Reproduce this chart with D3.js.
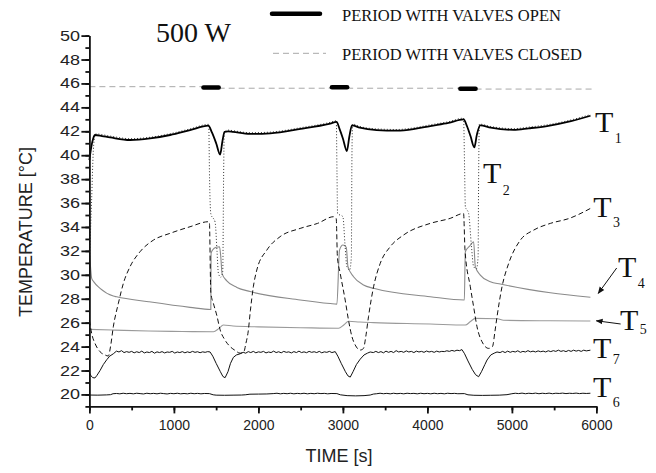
<!DOCTYPE html>
<html>
<head>
<meta charset="utf-8">
<script src="https://cdn.jsdelivr.net/npm/d3@7"></script>
<style>
  body { margin: 0; background: #fff; }
</style>
</head>
<body>
<div id="wrapper"></div>
<script>
// STEP 1: DATA  (time in s, temperature in °C)

const xTicks = [0, 1000, 2000, 3000, 4000, 5000, 6000];
const yTicks = [20, 22, 24, 26, 28, 30, 32, 34, 36, 38, 40, 42, 44, 46, 48, 50];

// valve periods shown on the 45.7 °C strip: [start, end, level]
const openPeriods = [[1350, 1530, 45.66], [2870, 3050, 45.68], [4390, 4570, 45.55]];
const closedPeriods = [[0, 1350, 45.73], [1530, 2870, 45.6], [3050, 4390, 45.6], [4570, 5950, 45.53]];

const t1 = [[0,39.6],[20,40.6],[45,41.4],[66,41.69],[150,41.6],[244,41.49],[481,41.27],[718,41.4],[955,41.69],[1191,42.1],[1408,42.47],
  [1450,41.9],[1500,41.0],[1547,40.05],[1575,41.2],[1600,41.95],[1640,42.0],[1700,41.95],[1900,41.78],[2140,41.83],[2500,42.2],[2850,42.65],[2925,42.78],
  [2960,42.2],[3000,41.4],[3047,40.35],[3075,41.5],[3107,42.5],[3200,42.3],[3400,42.1],[3640,42.05],[3850,42.2],[4034,42.44],[4250,42.7],[4428,43.0],
  [4470,42.4],[4510,41.6],[4555,40.65],[4585,41.7],[4625,42.5],[4750,42.3],[5020,42.12],[5200,42.25],[5416,42.44],[5700,42.85],[5930,43.3]];

const t2 = [[0,31.0],[25,36.0],[50,40.8],[75,41.78],[244,41.6],[481,41.38],[718,41.5],[955,41.8],[1191,42.2],[1412,42.58],
  [1422,38.0],[1437,35.1],[1488,34.4],[1510,32.0],[1527,30.1],[1555,29.8],[1578,30.3],[1588,38.0],[1596,41.9],[1640,42.1],[1700,42.05],
  [1900,41.88],[2140,41.93],[2500,42.3],[2850,42.75],[2922,42.88],[2930,38.5],[2937,35.13],[3000,34.86],[3025,32.5],[3047,30.68],[3080,30.4],
  [3100,31.5],[3107,40.0],[3115,42.6],[3200,42.4],[3400,42.2],[3640,42.15],[3850,42.3],[4034,42.54],[4250,42.8],[4428,43.1],[4440,39.0],
  [4449,35.7],[4488,35.13],[4520,32.5],[4547,30.68],[4580,30.5],[4600,31.5],[4606,38.0],[4615,42.6],[4750,42.4],[5020,42.22],[5200,42.35],
  [5416,42.54],[5700,42.95],[5930,43.4]];

const t3 = [[0,26.2],[30,25.0],[66,24.27],[126,23.57],[185,23.3],[224,23.21],[250,24.0],[283,25.66],[343,27.62],[402,29.29],[481,30.68],
  [599,31.93],[757,32.9],[955,33.47],[1191,34.02],[1408,34.44],[1420,34.4],[1437,28.5],[1468,27.6],[1508,26.6],[1547,25.4],[1600,24.6],
  [1665,24.0],[1720,23.7],[1784,23.45],[1830,23.6],[1850,24.2],[1880,25.3],[1905,27.0],[1940,29.0],[1981,30.4],[2100,32.07],[2257,33.19],
  [2494,33.88],[2700,34.3],[2889,34.86],[2921,34.7],[2935,31.5],[2968,30.13],[3027,27.89],[3066,26.22],[3107,24.83],[3146,24.13],
  [3205,23.71],[3244,23.85],[3270,24.8],[3303,26.5],[3363,29.0],[3442,30.96],[3560,32.35],[3718,33.33],[4034,34.3],[4270,34.72],
  [4428,35.13],[4445,32.07],[4508,29.0],[4547,27.33],[4587,25.66],[4646,24.41],[4725,23.85],[4770,24.0],[4800,25.3],[4824,26.5],
  [4883,29.0],[4962,30.96],[5100,32.9],[5258,33.74],[5455,34.3],[5680,34.72],[5929,35.55]];

const t4 = [[0,32.1],[15,30.5],[27,29.7],[50,29.43],[126,28.87],[283,28.23],[323,28.16],[700,27.75],[1191,27.28],[1437,27.1],
  [1440,31.8],[1460,32.1],[1500,32.3],[1540,32.35],[1555,31.5],[1570,30.1],[1626,29.5],[1745,28.95],[1902,28.6],[2494,27.9],[2850,27.6],
  [2929,27.55],[2960,32.07],[3000,32.49],[3040,32.3],[3060,30.68],[3126,29.84],[3244,29.15],[3363,28.87],[4034,28.17],[4437,27.89],
  [4449,31.93],[4500,32.4],[4547,32.77],[4567,30.68],[4626,29.98],[4745,29.42],[4863,29.23],[5455,28.5],[5929,28.12]];

const t5 = [[0,25.44],[300,25.38],[700,25.3],[1100,25.26],[1468,25.24],[1530,25.5],[1586,25.8],[1700,25.72],[2000,25.65],[2500,25.58],
  [2948,25.53],[3010,25.8],[3067,26.12],[3200,26.05],[3363,26.0],[4034,25.89],[4449,25.8],[4510,26.1],[4567,26.36],[4830,26.33],
  [4900,26.2],[5455,26.16],[5929,26.14]];

const t7 = [[0,21.8],[20,21.55],[40,21.4],[66,21.38],[90,21.6],[126,22.0],[165,22.5],[205,22.9],[240,23.2],[283,23.4],[320,23.62],
  [350,23.55],[380,23.66],[410,23.5],[440,23.58],[470,23.52],[500,23.6],[530,23.48],[560,23.57],[590,23.5],[620,23.62],[650,23.47],
  [680,23.55],[710,23.5],[740,23.6],[770,23.45],[800,23.56],[830,23.5],[860,23.58],[890,23.47],[920,23.55],[950,23.52],[980,23.6],
  [1010,23.46],[1040,23.55],[1070,23.5],[1100,23.58],[1130,23.48],[1160,23.56],[1190,23.5],[1220,23.6],[1250,23.52],[1280,23.57],
  [1310,23.49],[1340,23.56],[1370,23.52],[1400,23.58],[1428,23.55],[1460,23.2],[1500,22.6],[1550,21.9],[1580,21.5],[1606,21.4],
  [1640,21.9],[1670,22.6],[1704,23.1],[1740,23.3],[1784,23.4],[1820,23.52],[1850,23.45],[1880,23.58],[1910,23.5],[1940,23.6],
  [1970,23.48],[2000,23.56],[2030,23.52],[2060,23.6],[2090,23.47],[2120,23.55],[2150,23.5],[2180,23.62],[2210,23.5],[2240,23.57],
  [2270,23.48],[2300,23.6],[2330,23.52],[2360,23.56],[2390,23.47],[2420,23.58],[2450,23.5],[2480,23.62],[2510,23.5],[2540,23.56],
  [2570,23.49],[2600,23.6],[2630,23.52],[2660,23.57],[2690,23.5],[2720,23.6],[2750,23.48],[2780,23.56],[2810,23.52],[2840,23.6],
  [2870,23.5],[2909,23.58],[2940,23.2],[2980,22.6],[3030,21.9],[3060,21.55],[3087,21.45],[3120,21.9],[3160,22.5],[3205,22.95],
  [3250,23.3],[3290,23.45],[3323,23.55],[3360,23.5],[3390,23.6],[3420,23.5],[3450,23.58],[3480,23.48],[3510,23.62],[3540,23.52],
  [3570,23.6],[3600,23.5],[3630,23.66],[3660,23.55],[3690,23.6],[3720,23.52],[3750,23.64],[3780,23.55],[3810,23.6],[3840,23.5],
  [3870,23.62],[3900,23.55],[3930,23.6],[3960,23.52],[3990,23.63],[4020,23.55],[4050,23.6],[4080,23.52],[4110,23.62],[4140,23.55],
  [4170,23.6],[4200,23.58],[4230,23.65],[4260,23.6],[4290,23.68],[4320,23.62],[4350,23.7],[4380,23.66],[4409,23.75],[4440,23.4],
  [4480,22.8],[4530,22.1],[4570,21.65],[4606,21.48],[4640,21.9],[4680,22.5],[4706,22.88],[4750,23.3],[4790,23.45],[4824,23.55],
  [4860,23.5],[4890,23.6],[4920,23.5],[4950,23.62],[4980,23.52],[5010,23.6],[5040,23.55],[5070,23.65],[5100,23.52],[5130,23.6],
  [5160,23.55],[5190,23.66],[5220,23.56],[5250,23.62],[5280,23.55],[5310,23.64],[5340,23.57],[5370,23.62],[5400,23.55],[5430,23.65],
  [5460,23.58],[5490,23.66],[5520,23.6],[5550,23.7],[5580,23.6],[5610,23.66],[5640,23.58],[5670,23.68],[5700,23.6],[5730,23.7],
  [5760,23.62],[5790,23.68],[5820,23.6],[5850,23.7],[5880,23.64],[5929,23.7]];

const t6 = [[0,19.95],[100,19.94],[200,19.96],[250,19.98],[280,20.06],[320,20.08],[360,20.05],[400,20.1],[440,20.06],[480,20.09],
  [520,20.05],[560,20.1],[600,20.07],[640,20.04],[680,20.1],[720,20.06],[760,20.09],[800,20.05],[840,20.1],[880,20.07],[920,20.04],
  [960,20.09],[1000,20.06],[1040,20.1],[1080,20.05],[1120,20.08],[1160,20.05],[1200,20.1],[1240,20.06],[1280,20.09],[1320,20.05],
  [1360,20.08],[1420,20.07],[1465,19.97],[1500,19.94],[1600,19.93],[1700,19.94],[1800,19.95],[1844,19.97],[1900,20.02],[2000,20.03],
  [2100,20.04],[2175,20.07],[2220,20.1],[2260,20.05],[2300,20.09],[2340,20.06],[2380,20.1],[2420,20.05],[2460,20.09],[2500,20.06],
  [2540,20.1],[2580,20.05],[2620,20.09],[2660,20.06],[2700,20.1],[2740,20.07],[2780,20.09],[2820,20.05],[2860,20.08],[2929,20.07],
  [2970,19.97],[3050,19.9],[3150,19.88],[3250,19.9],[3323,19.95],[3360,20.03],[3400,20.06],[3440,20.1],[3480,20.06],[3520,20.09],
  [3560,20.05],[3600,20.1],[3640,20.06],[3680,20.09],[3720,20.05],[3760,20.1],[3800,20.07],[3840,20.09],[3880,20.05],[3920,20.1],
  [3960,20.06],[4000,20.09],[4040,20.05],[4080,20.1],[4120,20.06],[4160,20.09],[4200,20.05],[4240,20.1],[4280,20.07],[4320,20.09],
  [4360,20.06],[4437,20.07],[4480,19.97],[4550,19.93],[4650,19.92],[4750,19.93],[4850,19.94],[4942,19.98],[5000,20.06],[5040,20.1],
  [5080,20.07],[5120,20.11],[5160,20.06],[5200,20.1],[5240,20.07],[5280,20.11],[5320,20.06],[5360,20.1],[5400,20.07],[5440,20.11],
  [5480,20.06],[5520,20.1],[5560,20.08],[5600,20.11],[5640,20.07],[5680,20.1],[5720,20.08],[5760,20.11],[5800,20.07],[5840,20.1],
  [5880,20.08],[5929,20.1]];

// series labels: name, subscript, anchor (time, temperature) of the "T" baseline, subscript drop
const seriesLabels = [
  ["T", "1", 5983, 41.96, 11.5],
  ["T", "2", 4658, 37.68, 12],
  ["T", "3", 5963, 34.86, 10],
  ["T", "4", 6255, 29.84, 11],
  ["T", "5", 6279, 25.38, 4],
  ["T", "7", 5960, 23.04, 6],
  ["T", "6", 5960, 19.81, 10]
];

// arrows pointing from labels T4 and T5 to their curves: [t0, v0, t1, v1]
const labelArrows = [[6240, 30.57, 6022, 28.45], [6287, 25.89, 5999, 26.16]];

// STEP 2: DIMENSIONS

const dimensions = {
  width: 656,
  height: 473,
  margin: { top: 35.6, right: 59.6, bottom: 66.6, left: 89.4 }
};
dimensions.boundedWidth = dimensions.width - dimensions.margin.left - dimensions.margin.right;
dimensions.boundedHeight = dimensions.height - dimensions.margin.top - dimensions.margin.bottom;

const wrapper = d3.select("#wrapper")
  .append("svg")
  .attr("width", dimensions.width)
  .attr("height", dimensions.height)
  .style("background", "#fff");

const defs = wrapper.append("defs");
defs.append("marker")
  .attr("id", "arrowhead")
  .attr("viewBox", "0 0 10 10")
  .attr("refX", 9).attr("refY", 5)
  .attr("markerWidth", 7).attr("markerHeight", 7)
  .attr("markerUnits", "userSpaceOnUse")
  .attr("orient", "auto")
  .append("path")
  .attr("d", "M0,1 L10,5 L0,9 Z")
  .attr("fill", "#111");

const bounds = wrapper.append("g")
  .attr("transform", `translate(${dimensions.margin.left},${dimensions.margin.top})`);

// STEP 3: SCALES

const xScale = d3.scaleLinear().domain([0, 6000]).range([0, dimensions.boundedWidth]);
const yScale = d3.scaleLinear().domain([19, 50]).range([dimensions.boundedHeight, 0]);

// STEP 4: LINES

const lineGen = (curve) => d3.line()
  .x(d => xScale(d[0]))
  .y(d => yScale(d[1]))
  .curve(curve);

const series = [
  { data: t4, stroke: "#8a8a8a", width: 1.1, dash: null, curve: d3.curveMonotoneX },
  { data: t5, stroke: "#9a9a9a", width: 1.1, dash: null, curve: d3.curveMonotoneX },
  { data: t6, stroke: "#111", width: 1, dash: null, curve: d3.curveLinear },
  { data: t7, stroke: "#111", width: 1, dash: null, curve: d3.curveLinear },
  { data: t3, stroke: "#111", width: 1, dash: "5,3", curve: d3.curveMonotoneX },
  { data: t2, stroke: "#333", width: 1, dash: "1,2", curve: d3.curveMonotoneX },
  { data: t1, stroke: "#000", width: 1.8, dash: null, curve: d3.curveMonotoneX }
];

series.forEach(s => {
  bounds.append("path")
    .attr("d", lineGen(s.curve)(s.data))
    .attr("fill", "none")
    .attr("stroke", s.stroke)
    .attr("stroke-width", s.width)
    .attr("stroke-dasharray", s.dash)
    .attr("stroke-linejoin", "round");
});

// valve strip
bounds.selectAll(".closed")
  .data(closedPeriods)
  .join("line")
  .attr("x1", d => xScale(d[0])).attr("x2", d => xScale(d[1]))
  .attr("y1", d => yScale(d[2])).attr("y2", d => yScale(d[2]))
  .attr("stroke", "#a8a8a8")
  .attr("stroke-width", 1)
  .attr("stroke-dasharray", "6,4");

bounds.selectAll(".open")
  .data(openPeriods)
  .join("line")
  .attr("x1", d => xScale(d[0])).attr("x2", d => xScale(d[1]))
  .attr("y1", d => yScale(d[2])).attr("y2", d => yScale(d[2]))
  .attr("stroke", "#000")
  .attr("stroke-width", 4.5)
  .attr("stroke-linecap", "round");

// STEP 5: AXES

const axisFont = "'Liberation Sans', Arial, Helvetica, sans-serif";
const serifFont = "'Liberation Serif', 'Times New Roman', Times, serif";

const yMinor = bounds.append("g")
  .call(d3.axisLeft(yScale).tickValues(d3.range(19, 51, 1)).tickSize(4).tickFormat(""));
const yAxis = bounds.append("g")
  .call(d3.axisLeft(yScale).tickValues(yTicks).tickSize(8).tickSizeOuter(0).tickPadding(1.4)
    .tickFormat(d3.format("d")));

const xMinor = bounds.append("g")
  .attr("transform", `translate(0,${dimensions.boundedHeight})`)
  .call(d3.axisBottom(xScale).tickValues(d3.range(0, 6001, 500)).tickSize(4).tickFormat(""));
const xAxis = bounds.append("g")
  .attr("transform", `translate(0,${dimensions.boundedHeight})`)
  .call(d3.axisBottom(xScale).tickValues(xTicks).tickSize(7).tickSizeOuter(0).tickPadding(7)
    .tickFormat(d3.format("d")));

[yMinor, xMinor].forEach(g => g.select(".domain").remove());
[yMinor, yAxis, xMinor, xAxis].forEach(g => {
  g.selectAll("line, path").attr("stroke", "#111").attr("stroke-width", 1.8);
});

yAxis.selectAll("text")
  .attr("font-family", axisFont)
  .attr("font-size", 14)
  .attr("fill", "#222")
  .attr("textLength", 20)
  .attr("lengthAdjust", "spacingAndGlyphs");

xAxis.selectAll("text")
  .attr("font-family", axisFont)
  .attr("font-size", 14)
  .attr("fill", "#222");

// axis titles
wrapper.append("text")
  .attr("transform", "translate(31.5,232) rotate(-90)")
  .attr("text-anchor", "middle")
  .attr("font-family", axisFont)
  .attr("font-size", 18)
  .attr("fill", "#222")
  .text("TEMPERATURE [°C]");

wrapper.append("text")
  .attr("x", 339).attr("y", 462)
  .attr("text-anchor", "middle")
  .attr("font-family", axisFont)
  .attr("font-size", 18)
  .attr("fill", "#222")
  .text("TIME [s]");

// STEP 6: ANNOTATIONS

wrapper.append("text")
  .attr("x", 156).attr("y", 42.3)
  .attr("font-family", serifFont)
  .attr("font-size", 28)
  .attr("fill", "#111")
  .text("500 W");

// legend
wrapper.append("line")
  .attr("x1", 272).attr("x2", 320).attr("y1", 13.8).attr("y2", 13.8)
  .attr("stroke", "#000").attr("stroke-width", 4.5).attr("stroke-linecap", "round");
wrapper.append("line")
  .attr("x1", 273).attr("x2", 326).attr("y1", 53.3).attr("y2", 53.3)
  .attr("stroke", "#a8a8a8").attr("stroke-width", 1).attr("stroke-dasharray", "6,4");

wrapper.append("text")
  .attr("x", 342).attr("y", 20.5)
  .attr("font-family", serifFont).attr("font-size", 16.5).attr("fill", "#111")
  .text("PERIOD WITH VALVES OPEN");
wrapper.append("text")
  .attr("x", 342).attr("y", 60)
  .attr("font-family", serifFont).attr("font-size", 16.5).attr("fill", "#111")
  .text("PERIOD WITH VALVES CLOSED");

// curve labels with subscripts
seriesLabels.forEach(([name, sub, t, v, drop]) => {
  const label = bounds.append("text")
    .attr("x", xScale(t)).attr("y", yScale(v))
    .attr("font-family", serifFont)
    .attr("fill", "#111");
  label.append("tspan").attr("font-size", 30).text(name);
  label.append("tspan").attr("font-size", 14).attr("dx", 1.5).attr("dy", drop).text(sub);
});

bounds.selectAll(".label-arrow")
  .data(labelArrows)
  .join("line")
  .attr("x1", d => xScale(d[0])).attr("y1", d => yScale(d[1]))
  .attr("x2", d => xScale(d[2])).attr("y2", d => yScale(d[3]))
  .attr("stroke", "#111")
  .attr("stroke-width", 1)
  .attr("marker-end", "url(#arrowhead)");
</script>
</body>
</html>
